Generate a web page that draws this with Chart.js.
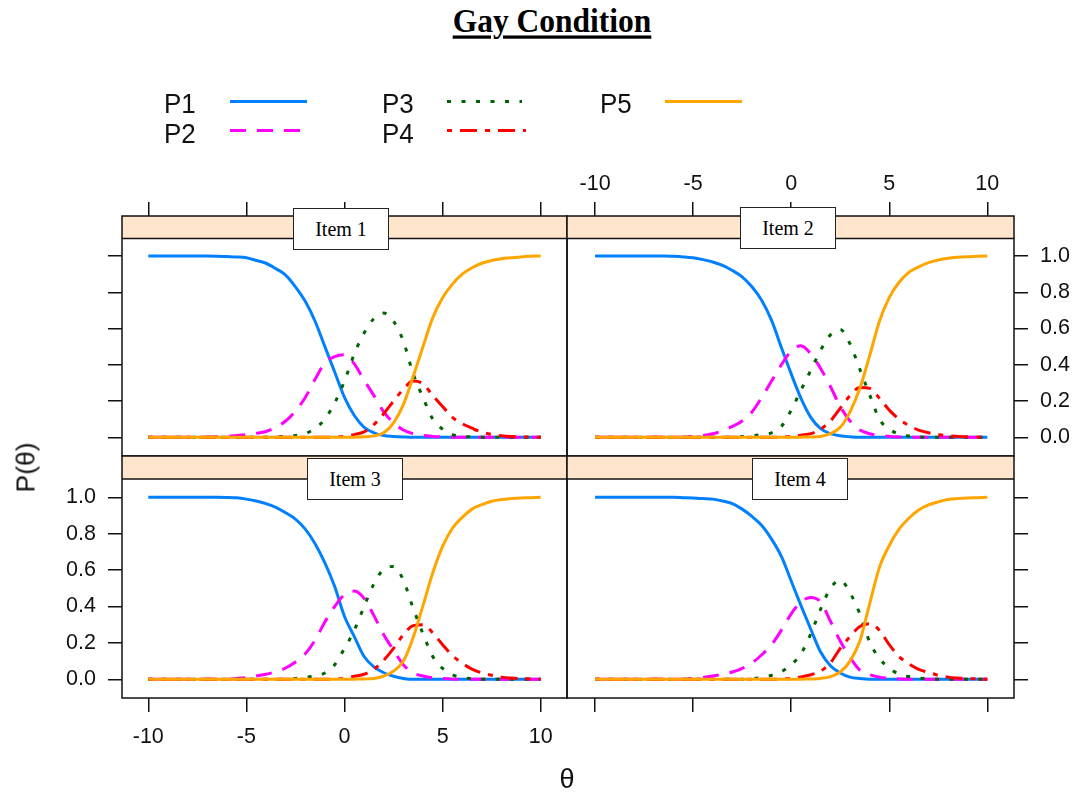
<!DOCTYPE html>
<html>
<head>
<meta charset="utf-8">
<script src="https://cdn.jsdelivr.net/npm/chart.js@4.4.1/dist/chart.umd.min.js"></script>
<style>
  html, body { margin:0; padding:0; background:#fff; }
  body { width:1076px; height:794px; position:relative; overflow:hidden; font-family:'Liberation Sans', Arial, sans-serif; }
  canvas { position:absolute; left:0; top:0; }
  .title { position:absolute; left:14px; width:1076px; top:2px; text-align:center; font-family:'Liberation Serif','Times New Roman',serif; font-weight:bold; font-size:31.5px; transform:scaleY(1.08); transform-origin:50% 0; }
  .title span { text-decoration:underline; text-decoration-thickness:3px; text-underline-offset:3px; }
  .strip { position:absolute; width:96px; height:42px; box-sizing:border-box; background:#fff; border:1.5px solid #222; font-family:'Liberation Serif','Times New Roman',serif; font-size:20px; display:flex; align-items:center; justify-content:center; }
  .lab { position:absolute; font-family:'Liberation Sans', Arial, sans-serif; color:#111; }
  svg { position:absolute; left:0; top:0; }
</style>
</head>
<body>
<div class="title"><span>Gay Condition</span></div>

<canvas id="c1" width="1076" height="794"></canvas>
<canvas id="c2" width="1076" height="794"></canvas>
<canvas id="c3" width="1076" height="794"></canvas>
<canvas id="c4" width="1076" height="794"></canvas>

<svg id="legend" width="1076" height="160"></svg>

<div class="lab" id="xlab" style="left:547px; top:764px; width:40px; text-align:center; font-size:27px;">θ</div>
<div class="lab" id="ylab" style="left:-14px; top:452px; width:80px; text-align:center; font-size:26.5px; transform:rotate(-90deg);">P(θ)</div>

<script>
// ---------------- data ----------------
const theta = [-10,-9.5,-9,-8.5,-8,-7.5,-7,-6.5,-6,-5.5,-5,-4.5,-4,-3.5,-3,-2.5,-2,-1.5,-1,-0.5,0,0.5,1,1.5,2,2.5,3,3.5,4,4.5,5,5.5,6,6.5,7,7.5,8,8.5,9,9.5,10];
const xTickValues = [-10,-5,0,5,10];
const yTickValues = [0,0.2,0.4,0.6,0.8,1.0];
const seriesNames = ['P1','P2','P3','P4','P5'];
const itemNames = ['Item 1','Item 2','Item 3','Item 4'];

const item1P1 = [1,1,1,1,1, 1,1,0.999,0.997,0.995, 0.99,0.975,0.96,0.93,0.895, 0.83,0.75,0.64,0.5,0.36, 0.22,0.12,0.055,0.025,0.01, 0.005,0.002,0,0,0, 0,0,0,0,0, 0,0,0,0,0, 0];
const item1P2 = [0,0,0,0,0, 0,0.001,0.003,0.005,0.01, 0.015,0.022,0.032,0.055,0.09, 0.145,0.22,0.32,0.41,0.445, 0.455,0.405,0.315,0.23,0.14, 0.08,0.04,0.02,0.01,0.005, 0.002,0,0,0,0, 0,0,0,0,0, 0];
const item1P3 = [0,0,0,0,0, 0,0,0,0,0, 0,0,0,0.002,0.005, 0.01,0.02,0.05,0.1,0.19, 0.31,0.46,0.575,0.655,0.685, 0.64,0.53,0.35,0.22,0.1, 0.045,0.015,0.005,0.002,0, 0,0,0,0,0, 0];
const item1P4 = [0,0,0,0,0, 0,0,0,0,0, 0,0,0,0,0, 0,0,0,0,0.002, 0.005,0.015,0.03,0.07,0.13, 0.2,0.265,0.31,0.295,0.23, 0.17,0.11,0.075,0.05,0.028, 0.016,0.009,0.005,0.003,0.001, 0];
const item1P5 = [0,0,0,0,0, 0,0,0,0,0, 0,0,0,0,0, 0,0,0,0,0, 0,0.001,0.003,0.008,0.025, 0.08,0.18,0.335,0.5,0.66, 0.77,0.845,0.9,0.935,0.96, 0.975,0.985,0.99,0.995,0.998, 1];

const item2P1 = [1,1,1,1,1, 1,1,1,0.998,0.995, 0.99,0.98,0.967,0.948,0.92, 0.885,0.83,0.755,0.645,0.495, 0.35,0.215,0.11,0.048,0.02, 0.008,0.003,0,0,0, 0,0,0,0,0, 0,0,0,0,0, 0];
const item2P2 = [0,0,0,0,0, 0,0,0,0,0, 0.005,0.01,0.02,0.035,0.06, 0.09,0.14,0.22,0.31,0.4, 0.475,0.505,0.46,0.38,0.28, 0.17,0.09,0.04,0.02,0.01, 0.005,0.002,0,0,0, 0,0,0,0,0, 0];
const item2P3 = [0,0,0,0,0, 0,0,0,0,0, 0,0,0,0,0, 0.004,0.008,0.015,0.025,0.06, 0.15,0.26,0.37,0.48,0.565, 0.595,0.515,0.375,0.235,0.1, 0.045,0.018,0.007,0.003,0, 0,0,0,0,0, 0];
const item2P4 = [0,0,0,0,0, 0,0,0,0,0, 0,0,0,0,0, 0,0,0,0,0.002, 0.005,0.012,0.02,0.045,0.09, 0.16,0.23,0.275,0.27,0.215, 0.15,0.1,0.065,0.04,0.025, 0.015,0.008,0.005,0.003,0.001, 0];
const item2P5 = [0,0,0,0,0, 0,0,0,0,0, 0,0,0,0,0, 0,0,0,0,0, 0,0.001,0.002,0.005,0.02, 0.055,0.14,0.27,0.45,0.64, 0.77,0.855,0.91,0.94,0.963, 0.978,0.988,0.993,0.996,0.998, 1];

const item3P1 = [1,1,1,1,1, 1,1,1,0.999,0.997, 0.99,0.98,0.965,0.945,0.915, 0.88,0.825,0.745,0.64,0.51, 0.345,0.235,0.125,0.068,0.036, 0.017,0.005,0,0,0, 0,0,0,0,0, 0,0,0,0,0, 0];
const item3P2 = [0,0,0,0,0, 0,0,0,0,0.005, 0.01,0.018,0.028,0.042,0.062, 0.095,0.14,0.215,0.315,0.4, 0.465,0.485,0.445,0.35,0.245, 0.16,0.08,0.035,0.018,0.008, 0.004,0.001,0,0,0, 0,0,0,0,0, 0];
const item3P3 = [0,0,0,0,0, 0,0,0,0,0, 0,0,0,0,0, 0.005,0.01,0.02,0.035,0.08, 0.17,0.27,0.4,0.525,0.605, 0.62,0.545,0.39,0.25,0.125, 0.06,0.025,0.01,0.004,0, 0,0,0,0,0, 0];
const item3P4 = [0,0,0,0,0, 0,0,0,0,0, 0,0,0,0,0, 0,0,0,0,0.002, 0.006,0.017,0.028,0.055,0.105, 0.17,0.245,0.295,0.3,0.255, 0.19,0.13,0.088,0.056,0.035, 0.022,0.012,0.007,0.004,0.002, 0];
const item3P5 = [0,0,0,0,0, 0,0,0,0,0, 0,0,0,0,0, 0,0,0,0,0, 0,0.001,0.002,0.005,0.018, 0.045,0.1,0.23,0.405,0.585, 0.73,0.83,0.89,0.935,0.96, 0.978,0.988,0.993,0.996,0.998, 1];

const item4P1 = [1,1,1,1,1, 1,1,1,1,0.998, 0.996,0.993,0.99,0.98,0.965, 0.935,0.895,0.845,0.77,0.675, 0.54,0.405,0.275,0.15,0.075, 0.035,0.012,0.004,0,0, 0,0,0,0,0, 0,0,0,0,0, 0];
const item4P2 = [0,0,0,0,0, 0,0,0,0,0, 0.005,0.01,0.018,0.028,0.04, 0.06,0.09,0.135,0.19,0.27, 0.36,0.425,0.45,0.425,0.32, 0.21,0.12,0.05,0.025,0.012, 0.005,0.002,0,0,0, 0,0,0,0,0, 0];
const item4P3 = [0,0,0,0,0, 0,0,0,0,0, 0,0,0,0,0, 0,0.004,0.01,0.022,0.042, 0.08,0.14,0.25,0.385,0.5, 0.545,0.475,0.36,0.205,0.115, 0.062,0.028,0.015,0.007,0.003, 0,0,0,0,0, 0];
const item4P4 = [0,0,0,0,0, 0,0,0,0,0, 0,0,0,0,0, 0,0,0,0,0.002, 0.005,0.013,0.025,0.045,0.09, 0.17,0.235,0.29,0.305,0.27, 0.19,0.125,0.085,0.055,0.038, 0.022,0.012,0.007,0.004,0.002, 0];
const item4P5 = [0,0,0,0,0, 0,0,0,0,0, 0,0,0,0,0, 0,0,0,0,0, 0,0.001,0.002,0.005,0.015, 0.04,0.1,0.21,0.415,0.615, 0.735,0.825,0.885,0.93,0.958, 0.975,0.988,0.993,0.996,0.998, 1];

const itemSeries = [
  [item1P1, item1P2, item1P3, item1P4, item1P5],
  [item2P1, item2P2, item2P3, item2P4, item2P5],
  [item3P1, item3P2, item3P3, item3P4, item3P5],
  [item4P1, item4P2, item4P3, item4P4, item4P5]
];

// ---------------- styles ----------------
const colors = ['#0080ff', '#ff00ff', '#006400', '#ff0000', '#ffa500'];
const dashes = [[], [16, 11], [4, 10.5], [5, 8, 17, 8], []];
const lineW = 3;

Chart.defaults.font.family = "'Liberation Sans', Arial, sans-serif";

// panel geometry (page pixels: frame incl. strip)
const panels = [
  { id:'c1', left:122, right:567,  top:216, bottom:456, stripH:22.5, xMin:-11.34, xMax:11.34, xPos:'top',    xLab:false, yPos:'left',  yLab:false, yMin:-0.1031, yMax:1.2206 },
  { id:'c2', left:567, right:1014, top:216, bottom:456, stripH:22.5, xMin:-11.43, xMax:11.36, xPos:'top',    xLab:true,  yPos:'right', yLab:true,  yMin:-0.1031, yMax:1.2206 },
  { id:'c3', left:122, right:567,  top:456, bottom:698, stripH:23,   xMin:-11.34, xMax:11.34, xPos:'bottom', xLab:true,  yPos:'left',  yLab:true,  yMin:-0.1027, yMax:1.2269 },
  { id:'c4', left:567, right:1014, top:456, bottom:698, stripH:23,   xMin:-11.43, xMax:11.36, xPos:'bottom', xLab:false, yPos:'right', yLab:false, yMin:-0.1027, yMax:1.2269 }
];
const TOP_AXIS_H = 60;

const framePlugin = {
  id: 'frame',
  beforeDatasetsDraw(chart, args, opts) {
    const a = chart.chartArea, ctx = chart.ctx;
    ctx.save();
    ctx.fillStyle = '#ffe5cc';
    ctx.fillRect(a.left, a.top, a.right - a.left, opts.stripH);
    ctx.strokeStyle = '#111';
    ctx.lineWidth = 1.5;
    ctx.beginPath();
    ctx.moveTo(a.left, a.top + opts.stripH);
    ctx.lineTo(a.right, a.top + opts.stripH);
    ctx.stroke();
    ctx.restore();
  },
  afterDraw(chart) {
    const a = chart.chartArea, ctx = chart.ctx;
    ctx.save();
    ctx.strokeStyle = '#111';
    ctx.lineWidth = 1.5;
    ctx.strokeRect(a.left, a.top, a.right - a.left, a.bottom - a.top);
    ctx.restore();
  }
};

const tickFont = { family: "'Liberation Sans', Arial, sans-serif", size: 21.5 };

panels.forEach((p, pi) => {
  for (const s of itemSeries[pi]) { if (s.length !== theta.length) throw new Error('length mismatch in panel ' + pi + ': ' + s.length); }
  const datasets = itemSeries[pi].map((vals, k) => ({
    label: seriesNames[k],
    data: theta.map((t, i) => ({ x: t, y: vals[i] })),
    borderColor: colors[k],
    borderWidth: lineW,
    borderDash: dashes[k],
    borderCapStyle: 'butt',
    pointRadius: 0,
    fill: false,
    cubicInterpolationMode: 'monotone',
    order: 4 - k
  }));
  const yAxisW = p.yPos === 'left' ? p.left : 1076 - p.right;
  const xAxisH = p.xPos === 'top' ? TOP_AXIS_H : 794 - p.bottom;
  new Chart(document.getElementById(p.id), {
    type: 'line',
    data: { datasets },
    options: {
      responsive: false,
      animation: false,
      devicePixelRatio: 1,
      events: [],
      layout: { padding: {
        left:   p.yPos === 'left'   ? 0 : p.left,
        right:  p.yPos === 'right'  ? 0 : 1076 - p.right,
        top:    p.xPos === 'top'    ? p.top - TOP_AXIS_H : p.top,
        bottom: p.xPos === 'bottom' ? 0 : 794 - p.bottom
      } },
      plugins: { legend: { display: false }, tooltip: { enabled: false }, frame: { stripH: p.stripH } },
      scales: {
        x: {
          type: 'linear', position: p.xPos, min: p.xMin, max: p.xMax,
          afterBuildTicks: s => { s.ticks = xTickValues.map(v => ({ value: v })); },
          afterFit: s => { s.height = xAxisH; },
          grid: { drawOnChartArea: false, drawTicks: true, tickLength: 14, color: '#111', lineWidth: 1.5 },
          border: { display: false },
          ticks: { color: p.xLab ? '#111' : 'rgba(0,0,0,0)', font: tickFont, padding: p.xPos === 'top' ? 5 : 12, maxRotation: 0, autoSkip: false, callback: v => String(v) }
        },
        y: {
          type: 'linear', position: p.yPos, min: p.yMin, max: p.yMax,
          afterBuildTicks: s => { s.ticks = yTickValues.map(v => ({ value: v })); },
          afterFit: s => { s.width = yAxisW; },
          grid: { drawOnChartArea: false, drawTicks: true, tickLength: 14, color: '#111', lineWidth: 1.5 },
          border: { display: false },
          ticks: { color: p.yLab ? '#111' : 'rgba(0,0,0,0)', font: tickFont, padding: 12, autoSkip: false, callback: v => Number(v).toFixed(1) }
        }
      }
    },
    plugins: [framePlugin]
  });
});

// strip labels
const stripPos = [[293, 208], [740, 207], [307, 458], [752, 458]];
itemNames.forEach((name, i) => {
  const d = document.createElement('div');
  d.className = 'strip';
  d.style.left = stripPos[i][0] + 'px';
  d.style.top = stripPos[i][1] + 'px';
  d.textContent = name;
  document.body.appendChild(d);
});

// legend (keys drawn as svg lines, labels as text)
const svgNS = 'http://www.w3.org/2000/svg';
const leg = document.getElementById('legend');
const legPos = [
  { tx:164, ty:113, x1:230, x2:307, y:101.5 },
  { tx:164, ty:143, x1:230, x2:302, y:130.5 },
  { tx:382, ty:113, x1:447, x2:522, y:101.5 },
  { tx:382, ty:143, x1:447, x2:526, y:130.5 },
  { tx:600, ty:113, x1:665, x2:742, y:101.5 }
];
seriesNames.forEach((n, k) => {
  const lp = legPos[k];
  const t = document.createElementNS(svgNS, 'text');
  t.setAttribute('transform', `translate(${lp.tx},${lp.ty}) scale(1,1.08)`);
  t.setAttribute('font-family', "'Liberation Sans', Arial, sans-serif");
  t.setAttribute('font-size', '26');
  t.setAttribute('fill', '#111');
  t.textContent = n;
  leg.appendChild(t);
  const l = document.createElementNS(svgNS, 'line');
  l.setAttribute('x1', lp.x1); l.setAttribute('x2', lp.x2);
  l.setAttribute('y1', lp.y); l.setAttribute('y2', lp.y);
  l.setAttribute('stroke', colors[k]);
  l.setAttribute('stroke-width', '3.2');
  if (dashes[k].length) l.setAttribute('stroke-dasharray', dashes[k].join(','));
  leg.appendChild(l);
});
</script>
</body>
</html>
